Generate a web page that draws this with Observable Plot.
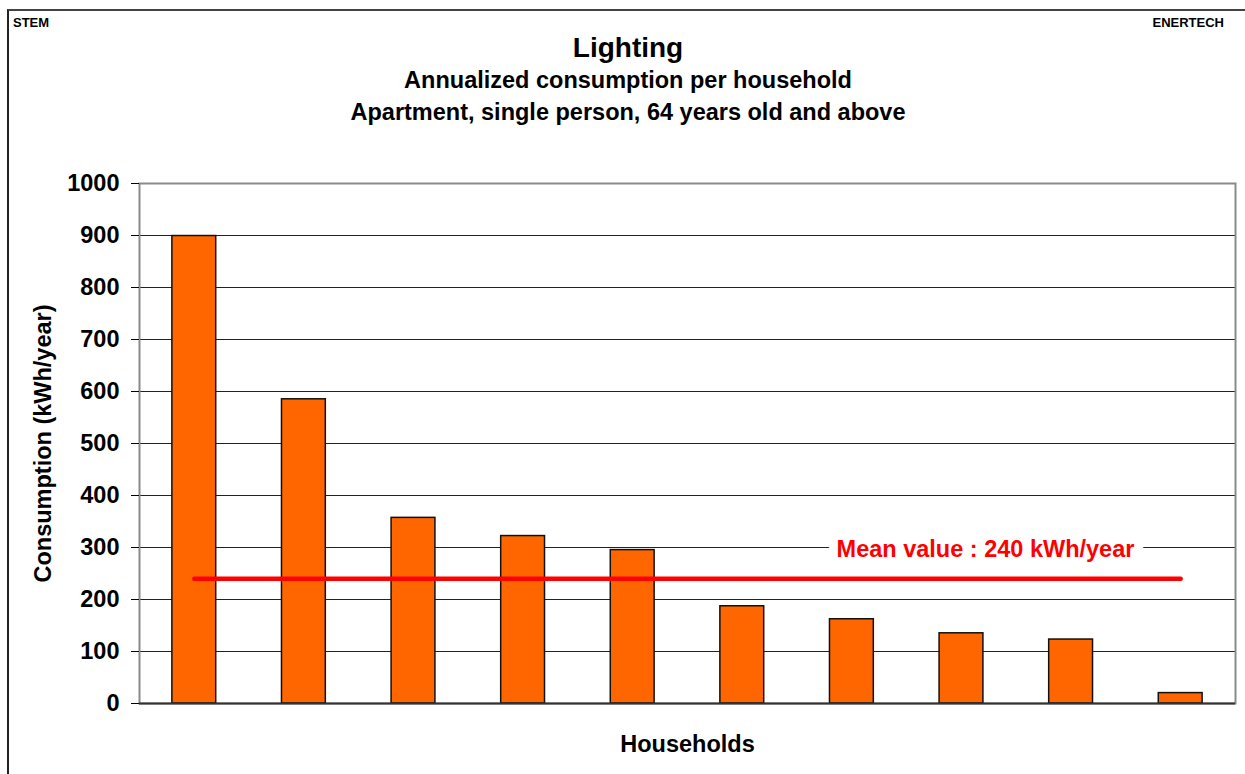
<!DOCTYPE html>
<html>
<head>
<meta charset="utf-8">
<script src="https://cdn.jsdelivr.net/npm/d3@7"></script>
<script src="https://cdn.jsdelivr.net/npm/@observablehq/plot@0.6"></script>
<style>
  html, body { margin: 0; padding: 0; background: #fff; }
  #wrap { position: relative; width: 1245px; height: 774px; overflow: hidden; font-family: "Liberation Sans", Arial, sans-serif; font-weight: bold; color: #000; }
  #border { position: absolute; left: 7px; top: 9px; width: 1300px; height: 900px; border-left: 2px solid #222; border-top: 2px solid #444; box-sizing: border-box; }
  .t { position: absolute; white-space: nowrap; line-height: 1; }
  #chart { position: absolute; left: 0; top: 0; }
</style>
</head>
<body>
<div id="wrap">
  <div id="chart"></div>
  <div id="border"></div>
  <div class="t" id="stem" style="left:13px; top:16px; font-size:13px;">STEM</div>
  <div class="t" id="ener" style="right:21px; top:16px; font-size:13px;">ENERTECH</div>
  <div class="t" id="title" style="left:0; width:1256px; text-align:center; top:34px; font-size:28px;">Lighting</div>
  <div class="t" id="sub1" style="left:0; width:1256px; text-align:center; top:69px; font-size:23.5px;">Annualized consumption per household</div>
  <div class="t" id="sub2" style="left:0; width:1256px; text-align:center; top:101px; font-size:23.5px;">Apartment, single person, 64 years old and above</div>
</div>
<script>
// ---- data ----
const households = ["H1", "H2", "H3", "H4", "H5", "H6", "H7", "H8", "H9", "H10"];
const consumption = [899, 585, 357, 322, 295, 187, 162, 135, 123, 20];
const meanValue = 240;
const meanLabel = "Mean value : 240 kWh/year";
const meanLabelLevel = 300;
const yTicks = [0, 100, 200, 300, 400, 500, 600, 700, 800, 900, 1000];
const yLabel = "Consumption (kWh/year)";
const xLabel = "Households";

const table = households.map((h, i) => ({household: h, value: consumption[i]}));
const meanLine = [
  {household: households[0], value: meanValue},
  {household: households[households.length - 1], value: meanValue}
];

const chart = Plot.plot({
  width: 1245,
  height: 774,
  marginLeft: 139,
  marginRight: 10,
  marginTop: 183,
  marginBottom: 71,
  style: {fontFamily: "Liberation Sans, Arial, sans-serif", fontWeight: "bold", background: "transparent", overflow: "visible"},
  x: {type: "band", domain: households, paddingInner: 0.6, paddingOuter: 0.3, round: false, axis: null},
  y: {domain: [0, 1000], ticks: yTicks},
  marks: [
    Plot.gridY(yTicks, {stroke: "#222", strokeOpacity: 1, strokeWidth: 1}),
    Plot.frame({stroke: "#8a8a8a", strokeWidth: 2}),
    Plot.axisY(yTicks, {tickSize: 8, tickPadding: 12, fontSize: 23.5, fontWeight: "bold", fill: "#000", stroke: "#000", label: null, tickFormat: d => String(d)}),
    Plot.barY(table, {x: "household", y: "value", fill: "#FF6600", stroke: "#111", strokeWidth: 1.5}),
    Plot.ruleY([0], {stroke: "#333", strokeWidth: 2}),
    Plot.ruleX([0], {frameAnchor: "left", y1: 0, y2: 1000, stroke: "#111", strokeWidth: 1.5}),
    Plot.line(meanLine, {x: "household", y: "value", stroke: "#FF0000", strokeWidth: 4.5, strokeLinecap: "round"}),
    Plot.text([{y: meanLabelLevel, label: meanLabel}], {
      y: "y", text: "label", frameAnchor: "right", textAnchor: "middle", dx: -250,
      fill: "#FF0000", stroke: "white", strokeWidth: 18, paintOrder: "stroke", strokeLinejoin: "round",
      fontSize: 23.5, fontWeight: "bold", lineAnchor: "middle", dy: 2
    }),
    Plot.text([yLabel], {frameAnchor: "left", textAnchor: "middle", rotate: -90, dx: -96, fontSize: 23.5, fontWeight: "bold", fill: "#000"}),
    Plot.text([xLabel], {frameAnchor: "bottom", dy: 41, fontSize: 23.5, fontWeight: "bold", fill: "#000", lineAnchor: "middle"})
  ]
});
document.getElementById("chart").appendChild(chart);
</script>
</body>
</html>
